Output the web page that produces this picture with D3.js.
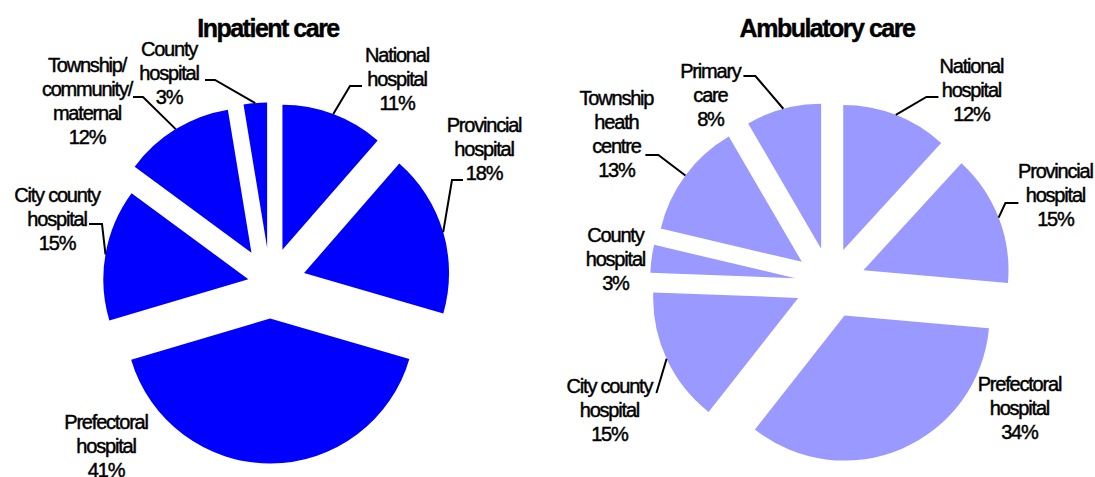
<!DOCTYPE html>
<html>
<head>
<meta charset="utf-8">
<script src="https://cdn.jsdelivr.net/npm/d3@7"></script>
<style>
  body { margin: 0; background: #fff; }
  svg { display: block; font-family: "Liberation Sans", Arial, sans-serif; }
  .label { font-size: 20px; letter-spacing: -1.2px; fill: #000; stroke: #000; stroke-width: 0.45px; }
  .title { font-size: 25px; font-weight: bold; letter-spacing: -1.5px; fill: #000; stroke: #000; stroke-width: 0.4px; }
  .leader { fill: none; stroke: #000; stroke-width: 2; }
</style>
</head>
<body>
<svg width="1095" height="477"></svg>
<script>
// share of spending by facility level (clockwise from 12 o'clock)
var inpatientCategories = ["National\nhospital", "Provincial\nhospital", "Prefectoral\nhospital",
                           "City county\nhospital", "Township/\ncommunity/\nmaternal", "County\nhospital"];
var inpatientValues = [11.4, 18.1, 40.9, 14.7, 12.3, 2.6];

var ambulatoryCategories = ["National\nhospital", "Provincial\nhospital", "Prefectoral\nhospital",
                            "City county\nhospital", "County\nhospital", "Township\nheath\ncentre", "Primary\ncare"];
var ambulatoryValues = [11.8, 14.6, 34.2, 15.0, 3.1, 12.9, 8.4];

var titles = ["Inpatient care", "Ambulatory care"];

// layout, hand placed like the original labels (relative to the pie centre)
var R = 145;
var charts = [
  { title: titles[0], cats: inpatientCategories, vals: inpatientValues,
    cx: 270, cy: 283, color: "#0000ff", titleX: 268, titleY: 37,
    explode: [35.5, 35.5, 35.5, 22, 35.5, 35.5],
    labelPos: [[127, -221], [214, -151], [-164, 146], [-213, -81], [-183, -211], [-101, -227]],
    leaders: [[[80, -197], [92, -197]], [[182, -103], [193, -103]], null,
              [[-168, -59], [-181, -59]], [[-127, -186], [-137, -186]], [[-55, -203], [-65, -203]]] },
  { title: titles[1], cats: ambulatoryCategories, vals: ambulatoryValues,
    cx: 830.4, cy: 283, color: "#9999ff", titleX: 827, titleY: 37,
    explode: [35.5, 35.5, 35.5, 35.5, 35.5, 35.5, 35.5],
    labelPos: [[141, -210], [225, -105], [189, 108], [-221, 110], [-215, -41], [-214, -178], [-120, -205]],
    leaders: [[[96, -186], [108, -186]], [[175, -80], [188, -80]], null,
              [[-174, 110]], null, [[-172, -128], [-185, -128]], [[-75, -207], [-87, -207]]] }
];

var svg = d3.select("svg");

var pie = d3.pie().sort(null).startAngle(0).endAngle(2 * Math.PI);
var arc = d3.arc().innerRadius(0).outerRadius(R);

charts.forEach(function(c) {
  var g = svg.append("g").attr("transform", "translate(" + c.cx + "," + c.cy + ")");
  var slices = pie(c.vals);

  g.selectAll("path.slice")
    .data(slices)
    .enter().append("path")
      .attr("class", "slice")
      .attr("fill", c.color)
      .attr("transform", function(d, i) {
        var m = (d.startAngle + d.endAngle) / 2;
        return "translate(" + (Math.sin(m) * c.explode[i]) + "," + (-Math.cos(m) * c.explode[i]) + ")";
      })
      .attr("d", arc);

  // leader lines from the middle of each slice's rim
  g.selectAll("path.leader")
    .data(slices.filter(function(d, i) { return c.leaders[i]; }))
    .enter().append("path")
      .attr("class", "leader")
      .attr("d", function(d) {
        var m = (d.startAngle + d.endAngle) / 2;
        var e = c.explode[d.index] + R;
        var pts = [[Math.sin(m) * e, -Math.cos(m) * e]].concat(c.leaders[d.index]);
        return d3.line()(pts);
      });

  var labels = g.selectAll("text.label")
    .data(slices)
    .enter().append("text")
      .attr("class", "label")
      .attr("text-anchor", "middle")
      .attr("x", function(d, i) { return c.labelPos[i][0]; })
      .attr("y", function(d, i) { return c.labelPos[i][1]; });

  labels.each(function(d, i) {
    var t = d3.select(this);
    var lines = c.cats[i].split("\n").concat([Math.round(d.value) + "%"]);
    lines.forEach(function(s, k) {
      t.append("tspan")
        .attr("x", c.labelPos[i][0])
        .attr("dy", k === 0 ? 0 : 24)
        .text(s);
    });
  });

  svg.append("text")
    .attr("class", "title")
    .attr("text-anchor", "middle")
    .attr("x", c.titleX)
    .attr("y", c.titleY)
    .text(c.title);
});
</script>
</body>
</html>
